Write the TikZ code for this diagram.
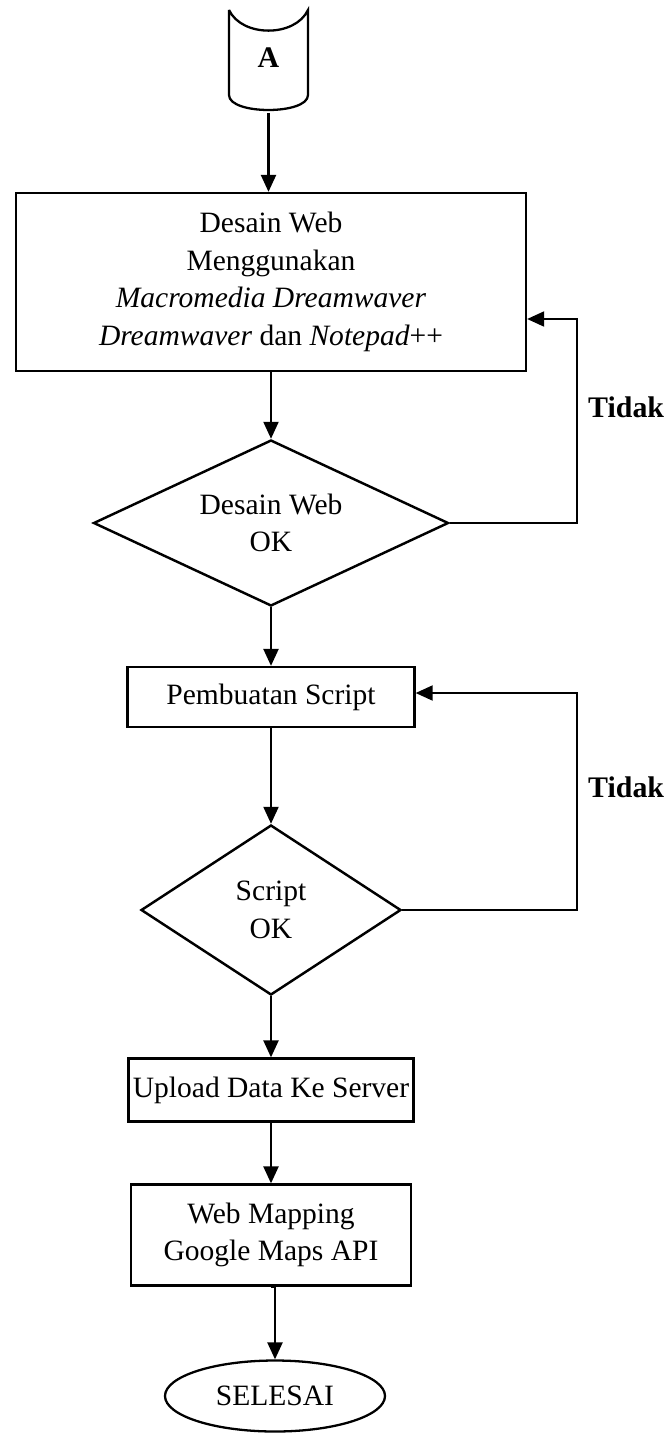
\documentclass[tikz,border=0pt]{standalone}
\usepackage{fontspec}
\setmainfont{Liberation Serif}
\usetikzlibrary{%
    shapes.geometric,%
    arrows.meta%
}

\begin{document}
\begin{tikzpicture}[
    txt/.style={font={\fontsize{16.8}{21.5}\selectfont},align=center},
    process/.style={txt,draw,line width=1.3pt,inner sep=0pt},
    decision/.style={txt,draw,diamond,line width=1.4pt,inner sep=0pt,
        aspect=2.1},
    terminal/.style={txt,draw,ellipse,line width=1.3pt,inner sep=0pt},
    flow/.style={line width=1.3pt,-{Triangle[length=0.34cm,width=0.3cm]}},
    back/.style={line width=1.1pt,-{Triangle[length=0.34cm,width=0.3cm]}},
    answer/.style={font={\fontsize{17}{20}\bfseries\selectfont},anchor=west},
    ]
    \useasboundingbox (0,0) rectangle (13.42,-28.72);
    % Off-page connector
    \draw[line width=1.3pt] (4.58,-0.2) -- (4.58,-1.9)
         .. controls (4.58,-2.3) and (6.16,-2.3) .. (6.16,-1.9)
         -- (6.16,-0.2)
         .. controls (5.9,-0.75) and (4.84,-0.75) .. (4.58,-0.2);
    \node[txt,font={\fontsize{17}{20}\bfseries\selectfont},
          minimum height=2.2cm] (A) at (5.37,-1.15) {A};
    % Web design
    \node[process,minimum width=10.2cm,minimum height=3.56cm]
         (desain) at (5.42,-5.64)
         {Desain Web\\Menggunakan\\\textit{Macromedia Dreamwaver}\\
          \textit{Dreamwaver} dan \textit{Notepad}++};
    \node[decision,minimum width=7.1cm,minimum height=3.32cm]
         (cekdesain) at (5.42,-10.46) {Desain Web\\OK};
    % Script
    \node[process,minimum width=5.74cm,minimum height=1.2cm]
         (script) at (5.42,-13.94) {Pembuatan Script};
    \node[decision,minimum width=5.2cm,minimum height=3.4cm]
         (cekscript) at (5.42,-18.2) {Script\\OK};
    % Upload and mapping
    \node[process,minimum width=5.7cm,minimum height=1.26cm]
         (upload) at (5.42,-21.8) {Upload Data Ke Server};
    \node[process,minimum width=5.6cm,minimum height=2.02cm]
         (mapping) at (5.42,-24.7) {Web Mapping\\Google Maps API};
    \node[terminal,minimum width=4.4cm,minimum height=1.42cm]
         (selesai) at (5.5,-27.92) {SELESAI};
    % Main flow
    \draw[flow] (A.south) -- (A.south |- desain.north);
    \draw[flow] (desain) -- (cekdesain);
    \draw[flow] (cekdesain) -- (script);
    \draw[flow] (script) -- (cekscript);
    \draw[flow] (cekscript) -- (upload);
    \draw[flow] (upload) -- (mapping);
    \draw[flow] (mapping.south) -- (mapping.south -| selesai.north)
         -- (selesai.north);
    % Loops back
    \coordinate (balik1) at (11.54,-6.38);
    \coordinate (balik2) at (11.54,-13.86);
    \draw[back] (cekdesain.east) -| (balik1) -- (desain.east |- balik1);
    \draw[back] (cekscript.east) -| (balik2) -- (script.east |- balik2);
    \node[answer] (tidak1) at (11.64,-8.14) {Tidak};
    \node[answer] (tidak2) at (11.64,-15.74) {Tidak};
\end{tikzpicture}
\end{document}
